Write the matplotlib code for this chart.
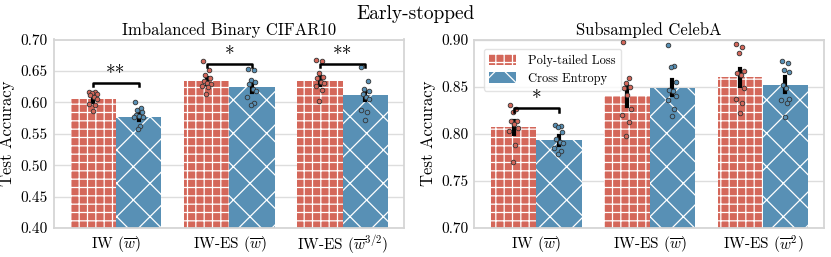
import numpy as np
import matplotlib
matplotlib.use("Agg")
import matplotlib.pyplot as plt
from matplotlib.patches import Patch

plt.rcParams['font.family'] = 'serif'
plt.rcParams['font.serif'] = ['cmr10', 'DejaVu Serif']
plt.rcParams['mathtext.fontset'] = 'cm'
plt.rcParams['axes.unicode_minus'] = False
plt.rcParams['axes.formatter.use_mathtext'] = True
plt.rcParams['hatch.color'] = 'white'
plt.rcParams['hatch.linewidth'] = 0.9

# ---- data ----
methods = ['Poly-tailed Loss', 'Cross Entropy']
cifar_labels = [r'IW ($\overline{w}$)', r'IW-ES ($\overline{w}$)', r'IW-ES ($\overline{w}^{3/2}$)']
celeba_labels = [r'IW ($\overline{w}$)', r'IW-ES ($\overline{w}$)', r'IW-ES ($\overline{w}^2$)']

cifar_poly_mean = [0.605, 0.634, 0.634]
cifar_ce_mean = [0.577, 0.625, 0.611]
cifar_poly_err = [0.005, 0.005, 0.007]
cifar_ce_err = [0.005, 0.008, 0.007]
cifar_poly_pts = [
    [0.617, 0.616, 0.615, 0.613, 0.611, 0.608, 0.605, 0.597, 0.595, 0.586],
    [0.665, 0.651, 0.643, 0.638, 0.634, 0.630, 0.629, 0.626, 0.624, 0.613],
    [0.667, 0.665, 0.647, 0.641, 0.638, 0.633, 0.630, 0.626, 0.620, 0.602],
]
cifar_ce_pts = [
    [0.600, 0.591, 0.588, 0.584, 0.580, 0.578, 0.577, 0.576, 0.562, 0.558],
    [0.653, 0.651, 0.635, 0.633, 0.629, 0.621, 0.618, 0.608, 0.599, 0.595],
    [0.656, 0.634, 0.621, 0.618, 0.614, 0.608, 0.606, 0.588, 0.585, 0.572],
]

celeba_poly_mean = [0.807, 0.840, 0.860]
celeba_ce_mean = [0.793, 0.849, 0.852]
celeba_poly_err = [0.007, 0.011, 0.009]
celeba_ce_err = [0.005, 0.008, 0.008]
celeba_poly_pts = [
    [0.831, 0.826, 0.823, 0.814, 0.813, 0.810, 0.806, 0.803, 0.788, 0.770],
    [0.897, 0.859, 0.854, 0.850, 0.849, 0.841, 0.826, 0.820, 0.812, 0.798],
    [0.895, 0.892, 0.886, 0.867, 0.864, 0.862, 0.849, 0.837, 0.833, 0.822],
]
celeba_ce_pts = [
    [0.809, 0.808, 0.807, 0.802, 0.794, 0.791, 0.790, 0.785, 0.782, 0.779],
    [0.894, 0.872, 0.871, 0.855, 0.846, 0.845, 0.840, 0.836, 0.826, 0.819],
    [0.877, 0.875, 0.868, 0.865, 0.852, 0.849, 0.837, 0.836, 0.833, 0.818],
]

# significance brackets: (group index, bracket height, label)
cifar_sig = [(0, 0.631, '**'), (1, 0.661, '*'), (2, 0.661, '**')]
celeba_sig = [(0, 0.827, '*')]

RED = '#d4675a'
BLUE = '#5890b5'
jitter = [-0.035, 0.02, -0.01, 0.03, -0.025, 0.005, 0.035, -0.04, 0.015, -0.005]


def panel(ax, labels, pm, cm, pe, ce, ppts, cpts, sig, ylim, yticks, title):
    x = np.arange(len(labels))
    w = 0.4
    ax.bar(x - w / 2, pm, w, color=RED, hatch='++', edgecolor='white', linewidth=0, zorder=2)
    ax.bar(x + w / 2, cm, w, color=BLUE, hatch='x', edgecolor='white', linewidth=0, zorder=2)
    for i in range(len(labels)):
        for off, pts, col in [(-w / 2, ppts[i], RED), (w / 2, cpts[i], BLUE)]:
            xs = x[i] + off + np.array(jitter[:len(pts)])
            ax.scatter(xs, pts, s=11, color=col, edgecolor='#333333', linewidth=0.6, zorder=4)
        ax.plot([x[i] - w / 2] * 2, [pm[i] - pe[i], pm[i] + pe[i]], color='black', lw=3, zorder=3)
        ax.plot([x[i] + w / 2] * 2, [cm[i] - ce[i], cm[i] + ce[i]], color='black', lw=3, zorder=3)
    span = ylim[1] - ylim[0]
    for g, h, lab in sig:
        d = span * 0.017
        ax.plot([g - w / 2, g - w / 2, g + w / 2, g + w / 2], [h - d, h, h, h - d],
                color='black', lw=1.8, zorder=5)
        ax.text(g, h - span * 0.005, lab, ha='center', va='bottom', fontsize=14, zorder=12)
    ax.set_ylim(*ylim)
    ax.set_yticks(yticks)
    ax.set_yticklabels([f'{t:.2f}' for t in yticks])
    ax.set_xlim(-0.55, 2.54)
    ax.set_xticks(x)
    ax.set_xticklabels(labels)
    ax.set_ylabel('Test Accuracy', fontsize=12)
    ax.set_title(title, fontsize=12, pad=3)
    ax.grid(axis='y', color='#dddddd', lw=1, zorder=0)
    ax.set_axisbelow(True)
    for s in ax.spines.values():
        s.set_color('#d5d5d5')
        s.set_linewidth(1.3)
    ax.tick_params(length=0, labelsize=11, pad=4)


fig = plt.figure(figsize=(8.31, 2.57), dpi=100)
ax1 = fig.add_axes([53.5 / 831, 1 - 228 / 257, 350.5 / 831, 188.5 / 257])
ax2 = fig.add_axes([474 / 831, 1 - 228 / 257, 350 / 831, 188.5 / 257])

panel(ax1, cifar_labels, cifar_poly_mean, cifar_ce_mean, cifar_poly_err, cifar_ce_err,
      cifar_poly_pts, cifar_ce_pts, cifar_sig, (0.40, 0.70),
      [0.40, 0.45, 0.50, 0.55, 0.60, 0.65, 0.70], 'Imbalanced Binary CIFAR10')
panel(ax2, celeba_labels, celeba_poly_mean, celeba_ce_mean, celeba_poly_err, celeba_ce_err,
      celeba_poly_pts, celeba_ce_pts, celeba_sig, (0.70, 0.90),
      [0.70, 0.75, 0.80, 0.85, 0.90], 'Subsampled CelebA')

handles = [Patch(facecolor=RED, hatch='++', edgecolor='white', linewidth=0, label=methods[0]),
           Patch(facecolor=BLUE, hatch='x', edgecolor='white', linewidth=0, label=methods[1])]
leg = ax2.legend(handles=handles, loc='upper left', fontsize=9, frameon=True,
                 edgecolor='#dddddd', handlelength=2.1, handleheight=0.9,
                 labelspacing=0.45, borderpad=0.45, handletextpad=1.0,
                 bbox_to_anchor=(0.01, 0.985))
leg.set_zorder(10)

fig.text(0.5, 0.945, 'Early-stopped', ha='center', va='center', fontsize=14)

fig.savefig('out.png', dpi=100)
